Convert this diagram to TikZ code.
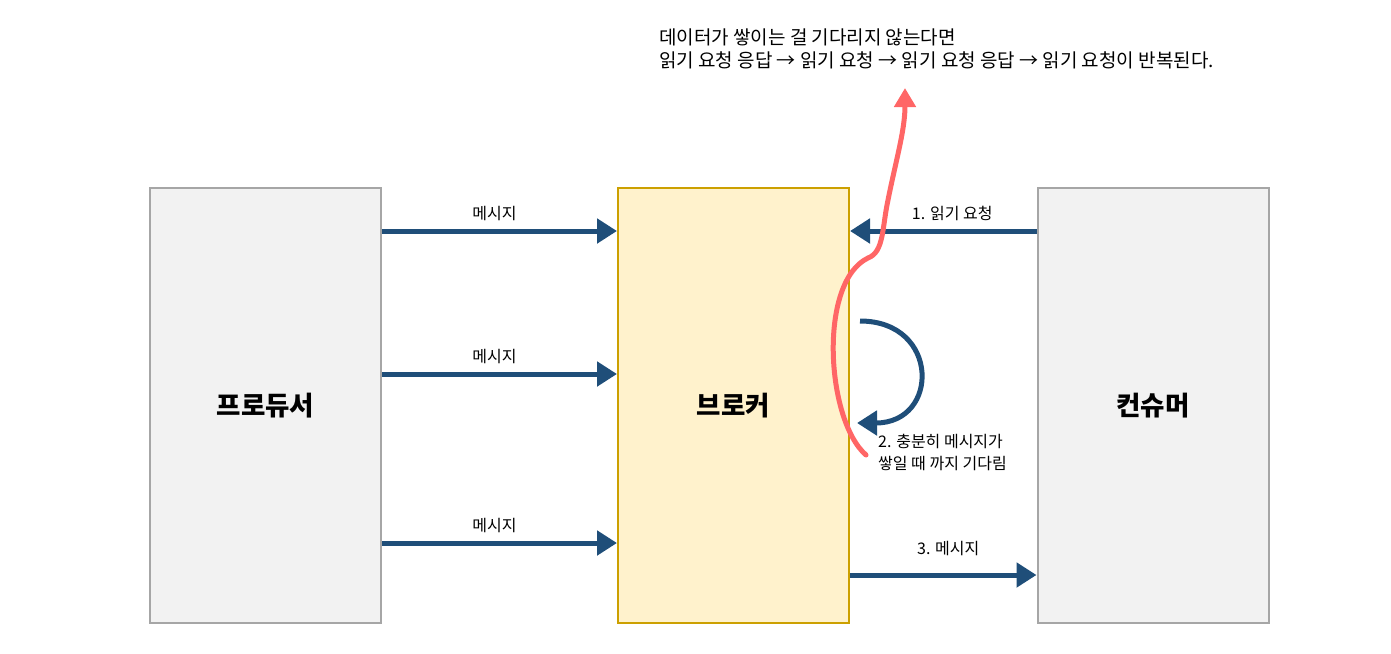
\documentclass[tikz,border=0pt]{standalone}
\usepackage{fontspec}
\setmainfont{Noto Sans CJK KR}
\usetikzlibrary{arrows.meta}
\definecolor{msgblue}{RGB}{31,78,121}
\definecolor{waitred}{RGB}{255,102,102}
\definecolor{boxgray}{RGB}{166,166,166}
\definecolor{boxfill}{RGB}{242,242,242}
\definecolor{brkline}{RGB}{204,160,0}
\definecolor{brkfill}{RGB}{255,242,204}
\tikzset{
  box/.style={draw=boxgray, fill=boxfill, line width=2pt, minimum width=231pt,
    minimum height=435pt, inner sep=0pt, font=\fontsize{26.5}{30}\selectfont\bfseries},
  flow/.style={draw=msgblue, line width=5pt, -{Triangle[length=20pt,width=24pt]}},
  lbl/.style={font=\fontsize{16}{22}\selectfont, inner sep=0pt}
}
\begin{document}
\begin{tikzpicture}[x=1pt,y=-1pt]
\useasboundingbox (0,0) rectangle (1391,653);
% boxes
\node[box] (prod) at (265.5,405.5){프로듀서};
\node[box, draw=brkline, fill=brkfill] (brk) at (733.5,405.5){브로커};
\node[box] (cons) at (1153,405.5){컨슈머};
% rows
\coordinate (r1) at (0,231);
\coordinate (r2) at (0,374);
\coordinate (r3) at (0,543);
\coordinate (r4) at (0,575);
\draw[flow] (prod.east |- r1) -- (brk.west |- r1) node[lbl, midway, above=8pt, xshift=-5pt]{메시지};
\draw[flow] (prod.east |- r2) -- (brk.west |- r2) node[lbl, midway, above=8pt, xshift=-5pt]{메시지};
\draw[flow] (prod.east |- r3) -- (brk.west |- r3) node[lbl, midway, above=8pt, xshift=-5pt]{메시지};
\draw[flow] (cons.west |- r1) -- (brk.east |- r1) node[lbl, midway, above=8pt, xshift=9pt]{1. 읽기 요청};
\draw[flow] (brk.east |- r4) -- (cons.west |- r4) node[lbl, midway, above=17pt, xshift=5pt]{3. 메시지};
% wait loop
\coordinate (loopA) at (860,321);
\coordinate (loopB) at (857,423);
\draw[flow] (loopA) .. controls (940,321) and (940,423) .. (loopB);
\node[lbl, anchor=north west, align=left] (wait) at (878,434){2. 충분히 메시지가\\쌓일 때 까지 기다림};
% no waiting
\coordinate (redS) at (866,455);
\coordinate (redE) at (905,88);
\draw[waitred, line width=5pt, line cap=round, -{Triangle[length=19pt,width=21pt]}]
  (redS) .. controls (826,420) and (818,282) .. (868,258)
  .. controls (884,252) and (882,228) .. (888,200)
  .. controls (896,160) and (905,130) .. (redE);
\node[font=\fontsize{19}{23}\selectfont, inner sep=0pt, anchor=west, align=left] (note) at (659,48.5)
  {데이터가 쌓이는 걸 기다리지 않는다면\\읽기 요청 응답 → 읽기 요청 → 읽기 요청 응답 → 읽기 요청이 반복된다.};
\end{tikzpicture}
\end{document}
